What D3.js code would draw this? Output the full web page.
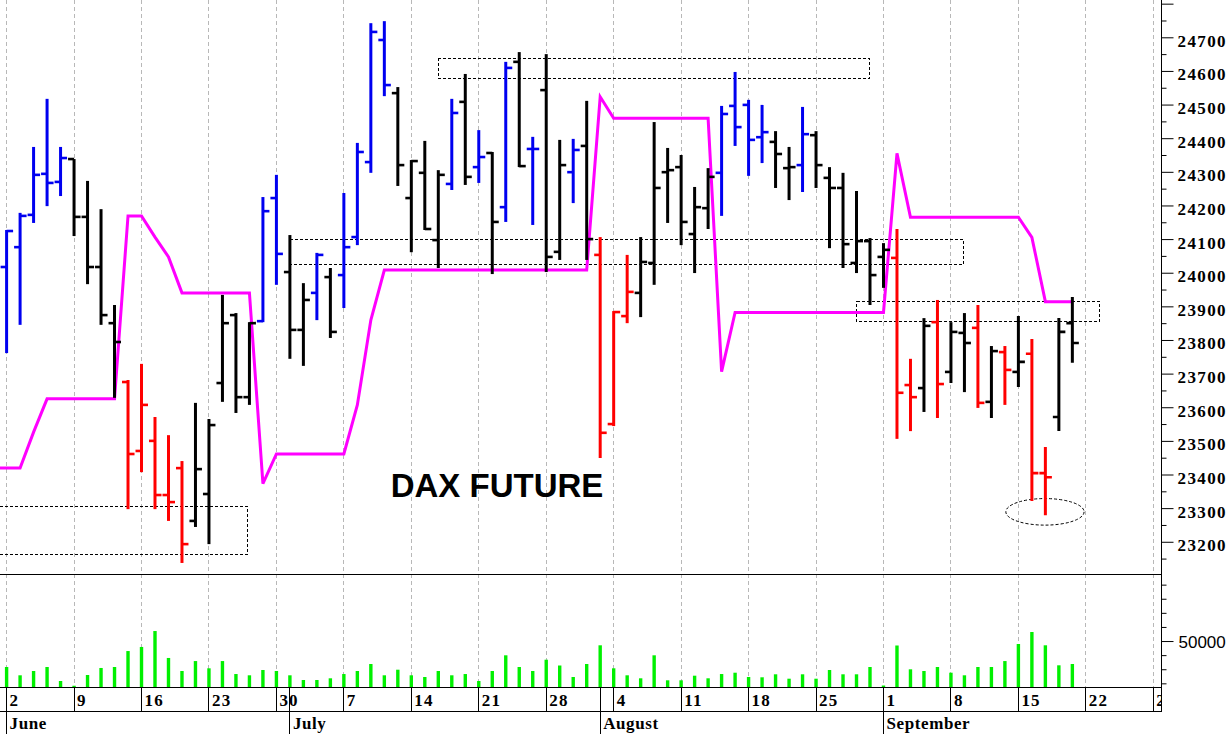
<!DOCTYPE html>
<html><head><meta charset="utf-8">
<script src="https://cdn.jsdelivr.net/npm/d3@7/dist/d3.min.js"></script>
<style>
html,body{margin:0;padding:0;background:#fff;overflow:hidden}
svg{display:block}
</style></head><body>
<svg id="chart" width="1232" height="734"></svg>
<script>
// ---- data (trading-day index 0 = Mon 2 June) ----
const opens  = [24017,24076,24172,24294,24270,24338,24166,24017,23850,23675,
                23470,23500,23339,23419,23262,23342,23672,23874,23630,23856,
                24222,24002,23830,23940,23987,23993,24106,24329,24692,24534,
                24222,24297,24097,24264,24508,24314,24356,24195,24627,24368,
                24543,24062,24299,24377,24053,23550,23871,23940,24029,24299,
                24314,24115,24192,24297,24496,24499,24403,24389,24311,24320,
                24409,24282,24252,24029,24094,24047,24044,23666,23657,23853,
                23705,23821,23836,23616,23764,23705,23759,23404,23571,23850];
const highs  = [24127,24178,24374,24517,24374,24338,24273,24189,23904,23681,
                23729,23571,23517,23440,23613,23565,23934,23880,23853,24225,
                24291,24112,23969,24059,24014,24237,24386,24742,24748,24552,
                24335,24392,24305,24517,24591,24424,24359,24627,24656,24404,
                24650,24395,24398,24511,24106,23886,24053,24106,24448,24371,
                24350,24255,24311,24496,24597,24514,24499,24421,24374,24493,
                24421,24314,24297,24243,24103,24088,24130,23744,23865,23919,
                23853,23880,23904,23782,23782,23871,23803,23482,23865,23928];
const lows   = [23761,23845,24148,24198,24228,24109,23966,23845,23628,23297,
                23407,23297,23262,23137,23244,23193,23616,23583,23607,23853,
                23964,23744,23723,23859,23806,23895,24082,24297,24525,24258,
                24061,24127,24014,24246,24261,24267,23996,24151,24314,24142,
                24002,24038,24207,24038,23449,23544,23850,23868,23964,24148,
                24082,23999,24130,24169,24377,24288,24326,24252,24216,24240,
                24252,24073,24014,23999,23904,23955,23506,23529,23586,23568,
                23672,23645,23598,23568,23607,23660,23321,23279,23529,23732];
const closes = [24124,24169,24291,24267,24341,24166,24017,23874,23794,23461,
                23607,23339,23318,23193,23416,23547,23850,23630,23850,24183,
                24056,23830,23919,24053,23824,24076,24359,24716,24558,24320,
                24332,24130,24291,24475,24285,24344,24151,24609,24317,24368,
                24047,24320,24365,24100,23524,23883,23943,24032,24252,24305,
                24151,24195,24285,24472,24433,24395,24418,24353,24314,24412,
                24320,24252,24085,24094,23993,24068,23643,23630,23842,23669,
                23824,23791,23613,23767,23711,23735,23404,23392,23824,23791];
// u = up (blue), n = neutral (black), d = down (red)
const trend = ["uuuuu","nnnn","ddddd","nnnnn","uu","nn","u","n","uuuu","nnnn",
               "unununu","nn","un","ddd","nnnnnn","uuuu","nn","u","nnnnnn","dd",
               "ndnndndndd","nn"].join("").split("");
const volumes = [31600,25700,28750,31600,21650,18300,25900,30900,31600,42900,
                 45800,57100,38000,28750,35800,30660,35800,26600,25700,29460,
                 28750,25700,22370,22370,23570,26600,28750,33700,25700,29670,
                 25700,24500,28750,25700,26600,21650,28750,39880,31600,28750,
                 36760,32650,24500,33700,46980,30660,25700,23570,39880,22150,
                 22150,25420,23570,26600,27540,24500,24280,26410,23290,26410,
                 23290,29460,26410,26410,31600,18460,46840,29950,28750,31600,
                 27540,25700,31600,31600,35800,47900,56400,46980,32790,33700];
const stopLine = [23419,23419,23526,23625,23625,23625,23625,23625,23625,24169,
                  24169,24106,24047,23940,23940,23940,23940,23940,23940,23373,
                  23461,23461,23461,23461,23461,23461,23607,23859,24008,24008,
                  24008,24008,24008,24008,24008,24008,24008,24008,24008,24008,
                  24008,24008,24008,24008,24523,24459,24459,24459,24459,24459,
                  24459,24459,24459,23706,23882,23882,23882,23882,23882,23882,
                  23882,23882,23882,23882,23882,23882,24355,24165,24165,24165,
                  24165,24165,24165,24165,24165,24165,24105,23914,23914,23914];
const stopLinePrior = 23419;   // value of the day before the first visible bar
const weekLabels  = ["2","9","16","23","30","7","14","21","28","4","11","18","25","1","8","15","22","29"];
const weekStarts  = d3.range(0, 86, 5);
const monthLabels = ["June","July","August","September"];
const monthStarts = [0, 21, 44, 65];
const priceTicks  = d3.range(23200, 24701, 100);
const zoneFrom  = [-0.5, 32.0, 21.0, 63.0];
const zoneTo    = [17.85, 63.95, 70.9, 80.98];
const zoneHigh  = [23306, 24638, 24099, 23914];
const zoneLow   = [23163, 24578, 24023, 23854];
const circleAt  = {i: 76.97, price: 23289, di: 2.9, dp: 39.5};
const title = "DAX FUTURE";

// ---- scales ----
const svg = d3.select("#chart");
const axisX = 1161.5;
const x  = d3.scaleLinear().domain([0, 85]).range([6.6, 1153.3]);
const y  = d3.scaleLinear().domain([23100, 24800]).range([575.4, 3.67]);
const yv = d3.scaleLinear().domain([17400, 97550]).range([687, 574]);
const colorOf = {u: "#0000f0", n: "#000000", d: "#ff0000"};

svg.append("rect").attr("width", 1232).attr("height", 734).attr("fill", "#fff");

const defs = svg.append("defs");
defs.append("clipPath").attr("id", "main").append("rect")
  .attr("x", 0).attr("y", 0).attr("width", axisX).attr("height", 574);
defs.append("clipPath").attr("id", "axisclip").append("rect")
  .attr("x", 0).attr("y", 680).attr("width", axisX).attr("height", 60);

// grid
svg.append("g").selectAll("line").data(weekStarts).join("line")
  .attr("x1", d => x(d)).attr("x2", d => x(d))
  .attr("y1", 0).attr("y2", 687)
  .attr("stroke", "#b8b8b8").attr("stroke-width", 1)
  .attr("stroke-dasharray", "4,3").attr("shape-rendering", "crispEdges");

const main = svg.append("g").attr("clip-path", "url(#main)");

// annotation zones
main.append("g").selectAll("rect").data(zoneFrom).join("rect")
  .attr("x", (d, k) => x(d)).attr("width", (d, k) => x(zoneTo[k]) - x(d))
  .attr("y", (d, k) => y(zoneHigh[k])).attr("height", (d, k) => y(zoneLow[k]) - y(zoneHigh[k]))
  .attr("fill", "none").attr("stroke", "#000").attr("stroke-width", 1)
  .attr("stroke-dasharray", "3,2").attr("shape-rendering", "crispEdges");

main.append("ellipse")
  .attr("cx", x(circleAt.i)).attr("cy", y(circleAt.price))
  .attr("rx", x(circleAt.di) - x(0)).attr("ry", y(circleAt.price - circleAt.dp) - y(circleAt.price))
  .attr("fill", "none").attr("stroke", "#000").attr("stroke-width", 1)
  .attr("stroke-dasharray", "3,2");

// stop line (starts one day before the first bar, clipped at the left edge)
const stopPts = [[-1, stopLinePrior]].concat(stopLine.map((v, i) => [i, v]));
main.append("path").datum(stopPts)
  .attr("d", d3.line().x(d => x(d[0])).y(d => y(d[1])))
  .attr("fill", "none").attr("stroke", "#ff00ff").attr("stroke-width", 3)
  .attr("stroke-linejoin", "miter");

// OHLC bars
const bars = main.append("g").selectAll("g").data(opens).join("g")
  .attr("stroke", (d, i) => colorOf[trend[i]]);
bars.append("line")
  .attr("x1", (d, i) => x(i)).attr("x2", (d, i) => x(i))
  .attr("y1", (d, i) => y(highs[i])).attr("y2", (d, i) => y(lows[i]))
  .attr("stroke-width", 3);
bars.append("line")
  .attr("x1", (d, i) => x(i) - 6).attr("x2", (d, i) => x(i))
  .attr("y1", d => y(d)).attr("y2", d => y(d))
  .attr("stroke-width", 2.6);
bars.append("line")
  .attr("x1", (d, i) => x(i)).attr("x2", (d, i) => x(i) + 6.5)
  .attr("y1", (d, i) => y(closes[i])).attr("y2", (d, i) => y(closes[i]))
  .attr("stroke-width", 2.6);

// title
main.append("text").text(title)
  .attr("x", x(28.47)).attr("y", y(23334))
  .attr("font-family", "Liberation Sans, Arial, sans-serif")
  .attr("font-weight", "bold").attr("font-size", 33).attr("fill", "#000");

// volume
svg.append("g").selectAll("line").data(volumes).join("line")
  .attr("x1", (d, i) => x(i)).attr("x2", (d, i) => x(i))
  .attr("y1", d => yv(d)).attr("y2", yv(17400))
  .attr("stroke", "#00f000").attr("stroke-width", 3.4);

// frame lines
const frame = svg.append("g").attr("stroke", "#000").attr("stroke-width", 1).attr("shape-rendering", "crispEdges");
frame.append("line").attr("x1", 0).attr("x2", axisX).attr("y1", 574).attr("y2", 574);
frame.append("line").attr("x1", 0).attr("x2", axisX).attr("y1", 687).attr("y2", 687);
frame.append("line").attr("x1", 0).attr("x2", axisX).attr("y1", 711.5).attr("y2", 711.5);
frame.append("line").attr("x1", axisX).attr("x2", axisX).attr("y1", 0).attr("y2", 711.5);
frame.selectAll(".wk").data(weekStarts).join("line").attr("class", "wk")
  .attr("x1", d => x(d)).attr("x2", d => x(d)).attr("y1", 687).attr("y2", 711.5);
frame.selectAll(".mo").data(monthStarts).join("line").attr("class", "mo")
  .attr("x1", d => x(d)).attr("x2", d => x(d)).attr("y1", 687).attr("y2", 734);

// price axis
const serif = "Liberation Serif, Times New Roman, serif";
const pAxis = svg.append("g").attr("transform", `translate(${axisX},0)`)
  .call(d3.axisRight(y).tickValues(priceTicks.concat([24800])).tickSize(12).tickSizeOuter(0).tickPadding(4)
        .tickFormat(d => d > 24700 ? "" : d3.format("d")(d)));
pAxis.select(".domain").remove();
pAxis.selectAll("text").attr("dy", "0.53em")
  .attr("font-family", serif).attr("font-weight", "bold").attr("font-size", 17)
  .attr("letter-spacing", "1.4px").attr("fill", "#000");
const minor = svg.append("g").attr("transform", `translate(${axisX},0)`)
  .call(d3.axisRight(y).tickValues(d3.range(23150, 24800, 100)).tickSize(5).tickSizeOuter(0).tickFormat(""));
minor.select(".domain").remove();

// volume axis
const vAxis = svg.append("g").attr("transform", `translate(${axisX},0)`)
  .call(d3.axisRight(yv).tickValues([50000]).tickSize(12).tickSizeOuter(0).tickPadding(5).tickFormat(d3.format("d")));
vAxis.select(".domain").remove();
vAxis.selectAll("text").attr("font-family", "Liberation Sans, Arial, sans-serif")
  .attr("font-size", 17).attr("fill", "#000").attr("dy", "0.36em");
const vMinor = svg.append("g").attr("transform", `translate(${axisX},0)`)
  .call(d3.axisRight(yv).tickValues(d3.range(20000, 90001, 10000).filter(v => v !== 50000)).tickSize(5).tickSizeOuter(0).tickFormat(""));
vMinor.select(".domain").remove();

// date labels
const dl = svg.append("g").attr("clip-path", "url(#axisclip)")
  .attr("font-family", serif).attr("font-weight", "bold").attr("font-size", 17).attr("fill", "#000");
dl.selectAll(".day").data(weekStarts).join("text").attr("class", "day")
  .attr("x", d => x(d) + 3).attr("y", 705.5).attr("letter-spacing", "1.2px")
  .text((d, k) => weekLabels[k]);
dl.selectAll(".mon").data(monthStarts).join("text").attr("class", "mon")
  .attr("x", d => x(d) + 3).attr("y", 729).attr("letter-spacing", "0.6px")
  .text((d, k) => monthLabels[k]);
</script>
</body></html>
